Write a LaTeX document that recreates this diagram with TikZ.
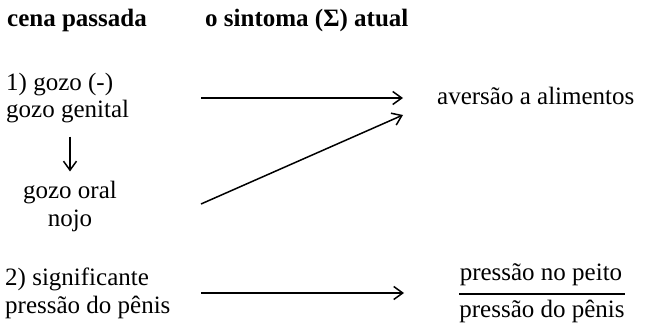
\documentclass[tikz,border=0pt]{standalone}
\usepackage{fontspec}
\setmainfont{Liberation Serif}
\usepackage{tikz}
\usetikzlibrary{arrows.meta,positioning,calc}

\begin{document}
\begin{tikzpicture}[x=1pt, y=-1pt]
    \tikzstyle{txt} = [inner sep=0pt, anchor=base west, font=\fontsize{25}{28}\selectfont]
    \tikzstyle{sarrow} = [line width=1.5pt, -{Straight Barb[length=9pt, width=13pt, line width=1.5pt]}]

    \useasboundingbox (0, 0) rectangle (648, 326);

    % column heads
    \node[txt] (head1) at (7, 27) {\textbf{cena passada}};
    \node[txt] (head2) at (205, 27) {\textbf{o sintoma (Σ) atual}};

    % scene 1 (base = last line)
    \node[txt, align=left] (gozo) at (6, 118) {1) gozo (-)\\gozo genital};
    \node[txt, anchor=base, align=center] (oral) at (70, 226) {gozo oral\\nojo};
    \node[txt] (avers) at (437, 105) {aversão a alimentos};

    % scene 2
    \node[txt, align=left] (signif) at (5, 313) {2) significante\\pressão do pênis};
    \node[txt, anchor=base] (num) at (541, 280) {pressão no peito};
    \node[txt, anchor=base] (den) at (542, 317) {pressão do pênis};

    \coordinate (g1) at (201, 98);
    \coordinate (a1) at (403, 98);
    \coordinate (o1) at (201, 204);
    \coordinate (a2) at (403, 115);
    \coordinate (s1) at (201, 293);
    \coordinate (f1) at (404, 293);

    \draw[sarrow, shorten <=13pt, shorten >=9pt] (gozo.south -| oral) -- (oral.north);
    \draw[sarrow] (g1) -- (a1);
    \draw[sarrow] (o1) -- (a2);
    \draw[sarrow] (s1) -- (f1);
    \draw[line width=1.8pt] (den.west |- 0, 294) -- (den.east |- 0, 294);
\end{tikzpicture}
\end{document}
